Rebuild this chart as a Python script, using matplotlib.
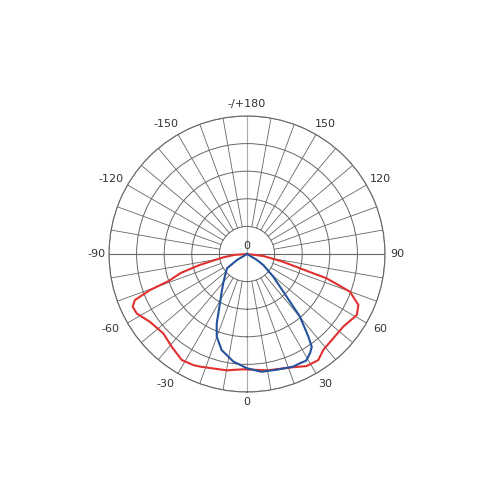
import numpy as np
import matplotlib
matplotlib.use("Agg")
import matplotlib.pyplot as plt

red_deg = [-90, -86, -82, -77, -74, -71, -69.6, -67.7, -65.3, -61.7, -55, -46.5, -39, -31.6,
           -25.8, -22.6, -10, -2, 10, 22.2, 28, 33.9, 38.5, 45.7, 53, 60.9, 65.4, 69.9, 73, 74.9,
           78, 83, 90]
red_val = [0, 0.45, 0.87, 1.75, 2.5, 3.0, 3.75, 4.39, 4.56, 4.54, 4.29, 4.18, 4.33, 4.51,
           4.47, 4.42, 4.28, 4.18, 4.28, 4.43, 4.6, 4.63, 4.44, 4.37, 4.37, 4.55, 4.44, 3.97, 3.02, 1.99,
           1.3, 0.6, 0]

blue_deg = [-64, -59, -54.4, -46, -39, -33, -28.7, -23.6, -20.1, -14.8, -7.2, 0, 7, 14.6,
            22.3, 26, 29, 32.4, 34.9, 36.6, 40.2, 42.9, 49.2, 56, 59, 66]
blue_val = [0, 0.42, 0.89, 1.1, 1.37, 1.7, 2.04, 2.74, 3.19, 3.6, 3.93, 4.14, 4.3, 4.33,
            4.41, 4.4, 4.42, 4.26, 4.1, 3.73, 2.97, 2.11, 1.26, 0.71, 0.42, 0]

tick_deg = [0, 30, 60, 90, 120, 150, 180, 210, 240, 270, 300, 330]
tick_lbl = ["0", "30", "60", "90", "120", "150", "-/+180", "-150", "-120", "-90", "-60", "-30"]

grid_col = "#666666"

fig = plt.figure(figsize=(5, 5), dpi=100)
ax = fig.add_axes([0.218, 0.216, 0.552, 0.552], projection="polar")
ax.set_theta_zero_location("S")
ax.set_theta_direction(1)
ax.set_ylim(0, 5)

# Ringe
ax.set_rgrids([1, 2, 3, 4, 5], labels=["", "", "", "", ""])
ax.yaxis.grid(True, color=grid_col, linewidth=0.7)
ax.xaxis.grid(False)
ax.set_xticklabels([])
ax.spines["polar"].set_color(grid_col)
ax.spines["polar"].set_linewidth(0.8)

# Speichen alle 10 Grad
for a in range(0, 360, 10):
    t = np.deg2rad(a)
    if a % 90 == 0:
        col = "#aaaaaa" if a in (0, 180) else grid_col
        ax.plot([t, t], [0, 5], color=col, linewidth=0.8, zorder=1)
    else:
        ax.plot([t, t], [1, 5], color=grid_col, linewidth=0.6, zorder=1)

# Winkelbeschriftung
for a, lbl in zip(tick_deg, tick_lbl):
    s = np.sin(np.deg2rad(a))
    dx = 0
    if a % 90 != 0:
        dx = 3 if s > 0 else -6
    dy = 2 if a == 0 else 0
    ax.annotate(lbl, xy=(np.deg2rad(a), 5.45), xytext=(dx, dy), textcoords="offset pixels",
                ha="center", va="center", fontsize=8, color="#333333", annotation_clip=False)

ax.annotate("0", xy=(0.5, 0.5), xycoords="axes fraction", xytext=(0, 6),
            textcoords="offset points", ha="center", va="center", fontsize=8, color="#333333")

ax.plot(np.deg2rad(red_deg), red_val, color="#e03030", linewidth=1.5, zorder=3)
ax.plot(np.deg2rad(blue_deg), blue_val, color="#25529a", linewidth=1.5, zorder=4)

fig.savefig("out.png", dpi=100)
